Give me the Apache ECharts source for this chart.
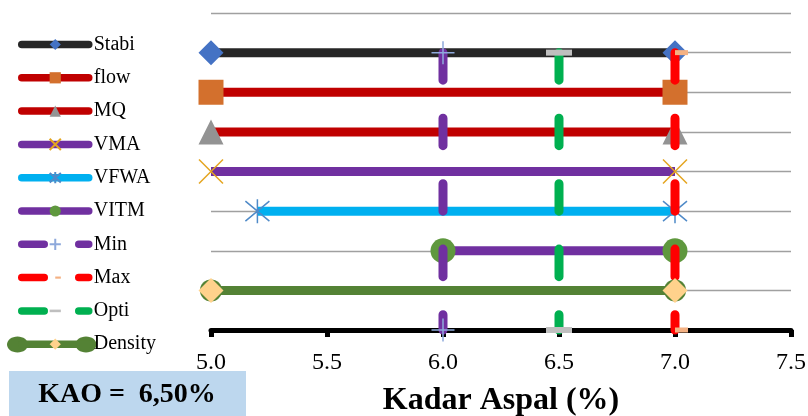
<!DOCTYPE html>
<html>
<head>
<meta charset="utf-8">
<script src="https://cdn.jsdelivr.net/npm/echarts@6/dist/echarts.min.js"></script>
<style>
  html, body { margin: 0; padding: 0; background: #fff; }
  #chart { width: 808px; height: 416px; }
</style>
</head>
<body>
<div id="chart"></div>
<script>
// ---- data ----
const bandNames = ['Stabi', 'flow', 'MQ', 'VMA', 'VFWA', 'VITM', 'Density'];
const bandStart = [5.0, 5.0, 5.0, 5.0, 5.2, 6.0, 5.0];
const bandEnd   = [7.0, 7.0, 7.0, 7.0, 7.0, 7.0, 7.0];
const bandRow   = [7, 6, 5, 4, 3, 2, 1];
const limitNames = ['Min', 'Max', 'Opti'];
const limitX     = [6.0, 7.0, 6.5];
const limitTop = 7;
const limitBottom = 0;
const xMin = 5.0, xMax = 7.5, xStep = 0.5;
const yMin = 0, yMax = 8, yStep = 1;
const legendOrder = ['Stabi', 'flow', 'MQ', 'VMA', 'VFWA', 'VITM', 'Min', 'Max', 'Opti', 'Density'];
const axisTitle = 'Kadar Aspal (%)';
const kaoText = 'KAO =  6,50%';

// ---- styles ----
const FONT = "'Times New Roman', 'Liberation Serif', serif";
const P_X = 'path://M0,0L10,10M10,0L0,10';
const P_AST = 'path://M0,0L10,10M10,0L0,10M5,-1L5,11';
const P_PLUS = 'path://M11,0L11,22M0,11L22,11';
const P_DASH = 'path://M0,0M0,26M0,10h26v6h-26z';
const P_HALF = 'path://M0,0M0,26M13,10.5h13v5h-13z';

const bandStyle = {
  Stabi:   { line: '#262626', symbol: 'diamond',  size: 25, fill: '#4472C4' },
  flow:    { line: '#C00000', symbol: 'rect',     size: 25, fill: '#D3702D' },
  MQ:      { line: '#C00000', symbol: 'triangle', size: 25, fill: '#939393' },
  VMA:     { line: '#7030A0', symbol: P_X,        size: 24, fill: '#E4A51F', stroke: '#E4A51F', sw: 1.5 },
  VFWA:    { line: '#00B0F0', symbol: P_AST,      size: 24, fill: '#4F8AC8', stroke: '#4F8AC8', sw: 1.5 },
  VITM:    { line: '#7030A0', symbol: 'circle',   size: 25, fill: '#5F983E' },
  Density: { line: '#548235', symbol: 'diamond',  size: 25, fill: '#FFD28C' }
};
const limitStyle = {
  Min:  { line: '#7030A0', symbol: P_PLUS, size: 23, fill: '#8EA9DB', stroke: '#8EA9DB', sw: 1.5 },
  Max:  { line: '#FF0000', symbol: P_HALF, size: 26, fill: '#F4B183' },
  Opti: { line: '#00B050', symbol: P_DASH, size: 26, fill: '#BFBFBF' }
};

function bandSeries(i) {
  const name = bandNames[i];
  const s = bandStyle[name];
  return {
    name: name, type: 'line', clip: false, silent: true,
    data: [[bandStart[i], bandRow[i]], [bandEnd[i], bandRow[i]]],
    symbol: s.symbol, symbolSize: s.size, showSymbol: true,
    lineStyle: { color: s.line, width: 9 },
    itemStyle: { color: s.fill, borderColor: s.stroke || s.fill, borderWidth: s.sw || 0, opacity: 1 },
    emphasis: { disabled: true }
  };
}
function limitSeries(i) {
  const name = limitNames[i];
  const s = limitStyle[name];
  return {
    name: name, type: 'line', clip: false, silent: true,
    data: [[limitX[i], limitTop], [limitX[i], limitBottom]],
    symbol: s.symbol, symbolSize: s.size, showSymbol: true,
    lineStyle: { color: s.line, width: 9, type: [27.5, 38], cap: 'round' },
    itemStyle: { color: s.fill, borderColor: s.stroke || s.fill, borderWidth: s.sw || 0 },
    emphasis: { disabled: true }
  };
}

const series = [];
for (let i = 0; i < 6; i++) series.push(bandSeries(i));
for (let i = 0; i < limitNames.length; i++) series.push(limitSeries(i));
// green round end under the Density markers
const di = bandNames.indexOf('Density');
series.push({
  name: 'DensityEnd', type: 'line', clip: false, silent: true,
  data: [[bandStart[di], bandRow[di]], [bandEnd[di], bandRow[di]]],
  symbol: 'circle', symbolSize: 22, showSymbol: true,
  lineStyle: { width: 0, opacity: 0 },
  itemStyle: { color: '#548235' },
  emphasis: { disabled: true }
});
series.push(bandSeries(di));
// draw each series fully above the previous one (like Excel)
series.forEach((s, i) => { s.z = 3 + i; });

const legendData = legendOrder.map(n =>
  limitNames.indexOf(n) >= 0 ? { name: n, lineStyle: { type: [22.5, 34.5] } } : { name: n });

const chart = echarts.init(document.getElementById('chart'), null, { renderer: 'canvas' });
chart.setOption({
  animation: false,
  backgroundColor: '#ffffff',
  grid: { left: 211, right: 17, top: 13, bottom: 86, containLabel: false, outerBoundsMode: 'none' },
  xAxis: {
    type: 'value', min: xMin, max: xMax, interval: xStep, z: 2,
    axisLine: { show: true, lineStyle: { color: '#000', width: 5 } },
    axisTick: { show: true, length: 7, lineStyle: { color: '#000', width: 5 } },
    splitLine: { show: false },
    axisLabel: {
      show: true, margin: 21, color: '#000', fontSize: 24, fontFamily: FONT,
      formatter: v => v.toFixed(1)
    },
    name: axisTitle, nameLocation: 'middle', nameGap: 55,
    nameTextStyle: { color: '#000', fontSize: 32, fontWeight: 'bold', fontFamily: FONT }
  },
  yAxis: {
    type: 'value', min: yMin, max: yMax, interval: yStep, z: 1,
    axisLine: { show: false }, axisTick: { show: false }, axisLabel: { show: false },
    splitLine: { show: true, lineStyle: { color: '#A0A0A0', width: 1.3 } }
  },
  legend: {
    data: legendData,
    orient: 'vertical', left: 18, top: 34.5, padding: 0,
    itemWidth: 67, itemHeight: 14, itemGap: 13.3,
    selectedMode: false,
    textStyle: { color: '#000', fontSize: 20, lineHeight: 20, fontFamily: FONT },
    lineStyle: { width: 7.5, cap: 'round' }
  },
  graphic: [
    { type: 'ellipse', z: 1, shape: { cx: 17.5, cy: 344.5, rx: 10.5, ry: 8 }, style: { fill: '#548235' } },
    { type: 'ellipse', z: 1, shape: { cx: 86, cy: 344.5, rx: 10.5, ry: 8 }, style: { fill: '#548235' } },
    { type: 'rect', z: 1, shape: { x: 9, y: 371, width: 237, height: 45 }, style: { fill: '#BDD7EE' } },
    { type: 'text', z: 2, x: 127, y: 395,
      style: { text: kaoText, fill: '#000', font: "bold 28px 'Times New Roman', 'Liberation Serif', serif",
               align: 'center', verticalAlign: 'middle' } }
  ],
  series: series
});
</script>
</body>
</html>
